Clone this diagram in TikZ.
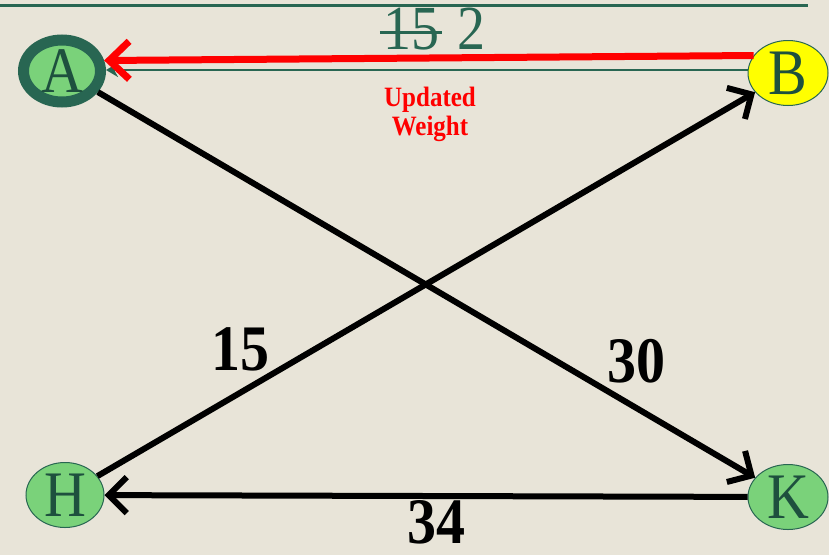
\documentclass[tikz,border=0pt]{standalone}
\usepackage{fontspec}
\setmainfont{Liberation Serif}
\usetikzlibrary{arrows.meta,shapes.geometric}
\definecolor{bg}{RGB}{232,228,216}
\definecolor{dkgreen}{RGB}{40,102,82}
\definecolor{txgreen}{RGB}{30,80,62}
\definecolor{ltgreen}{RGB}{122,210,122}
\definecolor{ylw}{RGB}{255,255,0}
\definecolor{rd}{RGB}{255,0,0}
\tikzset{
  vert/.style={ellipse,inner sep=0pt,fill=ltgreen,draw=dkgreen,line width=1pt,
    minimum width=80pt,minimum height=65pt,text=txgreen,
    font=\fontsize{58}{58}\selectfont},
  blk/.style={line width=6pt,draw=black,-{Straight Barb[length=18pt,width=36pt,line width=6pt]}},
  redarr/.style={line width=7pt,draw=rd,-{Straight Barb[length=20pt,width=38pt,line width=7pt]}},
  grnarr/.style={line width=2.5pt,draw=dkgreen,-{Stealth[length=12pt,width=14pt]}},
  wlabel/.style={font=\fontsize{58}{58}\selectfont\bfseries,text=black,inner sep=0pt},
}
\newcommand{\tall}[1]{\scalebox{1}[1.12]{#1}}
\begin{document}
\begin{tikzpicture}[x=1pt,y=-1pt]
\fill[bg] (0,0) rectangle (829,555);
\useasboundingbox (0,0) rectangle (829,555);
\draw[dkgreen,line width=3pt] (0,5) -- (808,5);
% nodes
\node[vert,line width=11pt,minimum width=77pt,minimum height=62pt] (A) at (62,71) {\tall{A}};
\node[vert,fill=ylw] (B) at (788,73) {\tall{B}};
\node[vert,minimum width=78pt] (H) at (65,495) {\tall{H}};
\node[vert] (K) at (788,497) {\tall{K}};
% green original edge
\draw[grnarr] (B.west |- 0,70) -- (A.east |- 0,70);
% edge labels top
\node[text=dkgreen,font=\fontsize{56}{56}\selectfont,inner sep=0pt] (w15) at (411,29) {\tall{15}};
\draw[dkgreen,line width=3pt] ([xshift=-3pt]w15.west |- 0,32) -- ([xshift=3pt]w15.east |- 0,32);
\node[text=dkgreen,font=\fontsize{56}{56}\selectfont,inner sep=0pt] (w2) at (471,29) {\tall{2}};
% red updated arrow
\draw[redarr] (B.153) -- (A.14);
\node[text=rd,font=\fontsize{25}{29}\selectfont\bfseries,align=center] (upd) at (430,114) {\tall{Updated}\\\tall{Weight}};
% black edges
\draw[blk] (A) -- (K);
\draw[blk] (H) -- (B);
\draw[blk] (K) -- (H);
\node[wlabel] (l15) at (240,349) {\tall{15}};
\node[wlabel] (l30) at (636,361) {\tall{30}};
\node[wlabel] (l34) at (436,522) {\tall{34}};
\end{tikzpicture}
\end{document}
